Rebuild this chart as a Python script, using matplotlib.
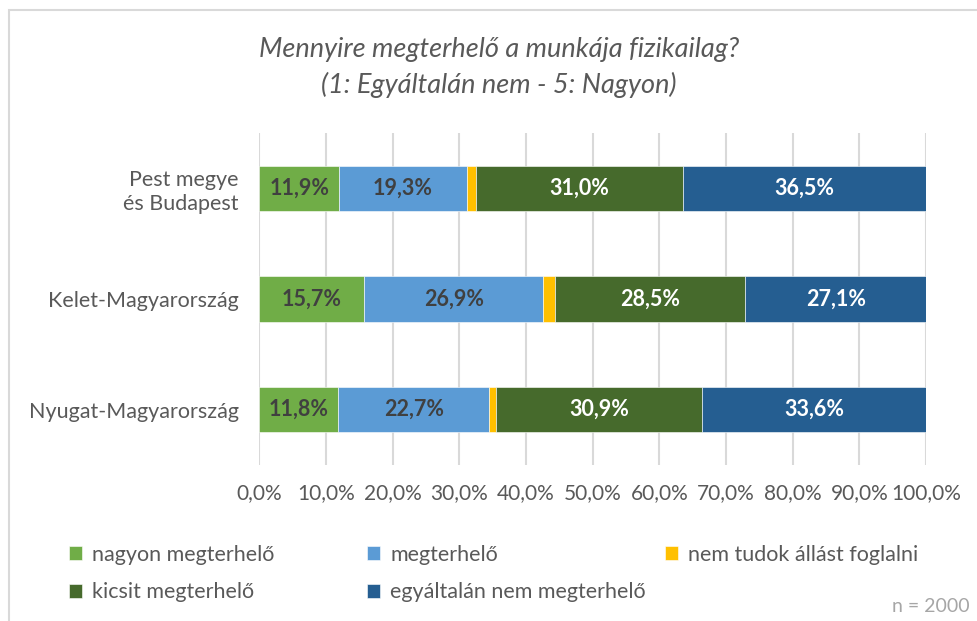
import numpy as np
import matplotlib.pyplot as plt
from matplotlib.patches import Rectangle

plt.rcParams['font.family'] = ['Lato', 'DejaVu Sans']

regiok = ["Pest megye\nés Budapest", "Kelet-Magyarország", "Nyugat-Magyarország"]
kategoriak = ["nagyon megterhelő", "megterhelő", "nem tudok állást foglalni",
              "kicsit megterhelő", "egyáltalán nem megterhelő"]
nagyon = [11.9, 15.7, 11.8]
megterhelo = [19.3, 26.9, 22.7]
nem_tudom = [1.3, 1.8, 1.0]
kicsit = [31.0, 28.5, 30.9]
egyaltalan = [36.5, 27.1, 33.6]
ertekek = [nagyon, megterhelo, nem_tudom, kicsit, egyaltalan]

szinek = ["#70AD47", "#5B9BD5", "#FFC000", "#466A2C", "#255E91"]
cimke_szin = ["#404040", "#404040", None, "white", "white"]

fig = plt.figure(figsize=(9.78, 6.21), dpi=100)
ax = fig.add_axes([0.2653, 0.2512, 0.9468 - 0.2653, 0.7858 - 0.2512])

# keret a diagram korul
fig.patches.append(Rectangle((9/978, -0.1), 1.2, 1 - 10/621 + 0.1, transform=fig.transFigure,
                             fill=False, edgecolor="#D9D9D9", linewidth=1.5))

y = np.arange(len(regiok))
bal = np.zeros(len(regiok))
oszlopok = []
for i in range(len(kategoriak)):
    b = ax.barh(y, ertekek[i], left=bal, height=0.41, color=szinek[i],
                edgecolor="white", linewidth=0.4, label=kategoriak[i], zorder=3)
    oszlopok.append(b)
    if cimke_szin[i] is not None:
        cimkek = [f"{v:.1f}%".replace(".", ",") for v in ertekek[i]]
        ax.bar_label(b, labels=cimkek, label_type="center", color=cimke_szin[i],
                     fontsize=15.5, fontweight="bold")
    bal += np.array(ertekek[i])

ax.set_xlim(0, 100)
ax.set_ylim(2.5, -0.5)
ax.set_xticks(np.arange(0, 101, 10))
ax.set_xticklabels([f"{t:.1f}%".replace(".", ",") for t in np.arange(0, 101, 10)])
ax.set_yticks(y)
ax.set_yticklabels(regiok, ha="right")
ax.tick_params(axis="x", length=0, pad=13, labelsize=15, labelcolor="#595959")
ax.tick_params(axis="y", length=0, pad=15, labelsize=15.5, labelcolor="#595959")
ax.grid(axis="x", color="#D9D9D9", linewidth=1.5, zorder=0)
for s in ax.spines.values():
    s.set_visible(False)

fig.text(499/978, 1 - 50/621, "Mennyire megterhelő a munkája fizikailag?",
         ha="center", va="center", style="italic", fontsize=19.5, color="#595959")
fig.text(499/978, 1 - 85/621, "(1: Egyáltalán nem - 5: Nagyon)",
         ha="center", va="center", style="italic", fontsize=19.5, color="#595959")

# jelmagyarazat harom oszlopban
oszlop_x = [58/978, 356/978, 654/978]
csoportok = [[0, 3], [1, 4], [2]]
for x0, cs in zip(oszlop_x, csoportok):
    fig.legend([oszlopok[k] for k in cs], [kategoriak[k] for k in cs],
               loc="upper left", bbox_to_anchor=(x0, 1 - 534/621), frameon=False,
               fontsize=15.5, labelcolor="#595959", handlelength=0.6, handleheight=0.6,
               handletextpad=0.5, labelspacing=0.82, borderpad=0)

fig.text(970/978, 1 - 607/621, "n = 2000", ha="right", va="center", fontsize=14, color="#A6A6A6")

fig.savefig("out.png", dpi=100)
